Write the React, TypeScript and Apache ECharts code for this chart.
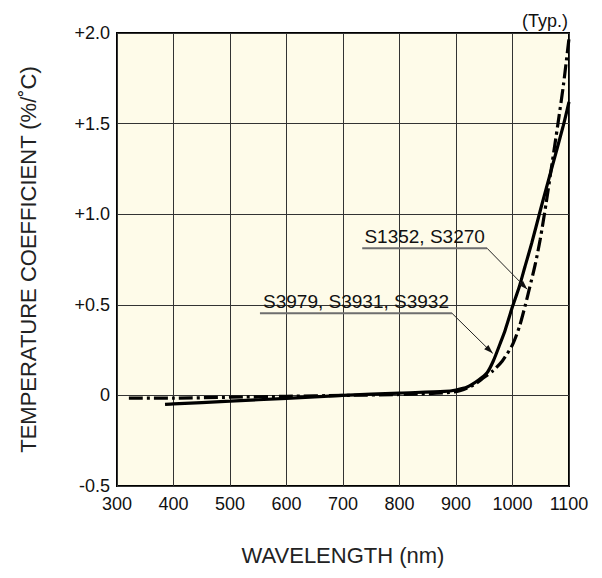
import React, { useEffect, useRef } from "react";
import * as echarts from "echarts";

// Axis ticks
const xTicks = [300, 400, 500, 600, 700, 800, 900, 1000, 1100];
const yTicks = [-0.5, 0, 0.5, 1.0, 1.5, 2.0];
const yTickLabels = ["-0.5", "0", "+0.5", "+1.0", "+1.5", "+2.0"];

// S3979, S3931, S3932 (solid)
const wlSolid = [385, 400, 500, 600, 700, 800, 880, 900, 920, 940, 955, 966, 978, 987, 1000, 1012, 1022, 1034, 1050, 1070, 1090, 1100];
const tcSolid = [-0.05, -0.047, -0.032, -0.016, 0, 0.013, 0.022, 0.03, 0.046, 0.085, 0.125, 0.19, 0.285, 0.36, 0.49, 0.6, 0.71, 0.84, 1.03, 1.26, 1.49, 1.62];

// S1352, S3270 (dash-dot)
const wlDash = [321, 400, 500, 600, 700, 800, 900, 930, 950, 965, 982, 1000, 1012, 1022, 1030, 1040, 1049, 1060, 1070, 1080, 1090, 1100];
const tcDash = [-0.015, -0.015, -0.01, -0.005, 0, 0.005, 0.02, 0.055, 0.1, 0.135, 0.19, 0.28, 0.377, 0.49, 0.59, 0.72, 0.86, 1.07, 1.28, 1.49, 1.71, 1.97];

// Annotations: label, underline start/end (data coords), arrow tip (data coords)
const annLabels = ["S1352, S3270", "S3979, S3931, S3932"];
const annLineStart = [[734, 0.812], [553, 0.453]];
const annLineEnd = [[955, 0.812], [893, 0.453]];
const annTip = [[1026, 0.586], [965, 0.232]];

const FONT = "'Liberation Sans', Arial, sans-serif";

export default function App() {
  const ref = useRef<HTMLDivElement>(null);
  useEffect(() => {
    document.body.style.margin = "0";
    const chart = echarts.init(ref.current!, null, { renderer: "svg" });
    chart.setOption({
      animation: false,
      backgroundColor: "#ffffff",
      grid: {
        left: 117,
        right: 33,
        top: 33,
        bottom: 92,
        show: true,
        backgroundColor: "#FEFBE9",
        borderColor: "#000",
        borderWidth: 2,
      },
      xAxis: {
        type: "value",
        min: 300,
        max: 1100,
        interval: 100,
        name: "WAVELENGTH (nm)",
        nameLocation: "middle",
        nameGap: 58,
        nameTextStyle: { fontFamily: FONT, fontSize: 22, color: "#222" },
        axisLine: { show: false },
        axisTick: { show: false },
        axisLabel: {
          margin: 9,
          fontFamily: FONT,
          fontSize: 18,
          color: "#111",
          formatter: (v: number) => (xTicks.includes(v) ? String(v) : ""),
        },
        splitLine: { show: true, lineStyle: { color: "#333", width: 1 } },
      },
      yAxis: {
        type: "value",
        min: -0.5,
        max: 2.0,
        interval: 0.5,
        name: "TEMPERATURE COEFFICIENT (%/˚C)",
        nameLocation: "middle",
        nameGap: 78,
        nameTextStyle: { fontFamily: FONT, fontSize: 22, color: "#222" },
        axisLine: { show: false },
        axisTick: { show: false },
        axisLabel: {
          margin: 7,
          fontFamily: FONT,
          fontSize: 18,
          color: "#111",
          formatter: (v: number) => {
            const i = yTicks.findIndex((t) => Math.abs(t - v) < 1e-6);
            return i >= 0 ? yTickLabels[i] : "";
          },
        },
        splitLine: { show: true, lineStyle: { color: "#333", width: 1 } },
      },
      series: [
        {
          name: "S3979, S3931, S3932",
          type: "line",
          data: wlSolid.map((w, i) => [w, tcSolid[i]]),
          showSymbol: false,
          smooth: 0.25,
          lineStyle: { color: "#000", width: 3.2, type: "solid" },
          z: 3,
        },
        {
          name: "S1352, S3270",
          type: "line",
          data: wlDash.map((w, i) => [w, tcDash[i]]),
          showSymbol: false,
          smooth: 0.25,
          lineStyle: { color: "#000", width: 3.2, type: [14, 4, 3, 4] },
          z: 4,
        },
      ],
    });

    const px = (p: number[]) => chart.convertToPixel({ gridIndex: 0 }, p) as number[];
    const graphics: any[] = [];
    annLabels.forEach((label, i) => {
      const a = px(annLineStart[i]);
      const b = px(annLineEnd[i]);
      const t = px(annTip[i]);
      graphics.push({
        type: "text",
        x: (a[0] + b[0]) / 2,
        y: a[1] - 2,
        style: {
          text: label,
          fontFamily: FONT,
          fontSize: 19,
          fill: "#111",
          align: "center",
          verticalAlign: "bottom",
        },
        z: 10,
      });
      graphics.push({
        type: "line",
        shape: { x1: a[0], y1: a[1], x2: b[0], y2: b[1] },
        style: { stroke: "#6e6e6e", lineWidth: 2 },
        z: 10,
      });
      graphics.push({
        type: "line",
        shape: { x1: b[0], y1: b[1], x2: t[0], y2: t[1] },
        style: { stroke: "#222", lineWidth: 1 },
        z: 10,
      });
      const dx = t[0] - b[0];
      const dy = t[1] - b[1];
      const len = Math.sqrt(dx * dx + dy * dy);
      const ux = dx / len;
      const uy = dy / len;
      const L = 9;
      const W = 3;
      const bx = t[0] - ux * L;
      const by = t[1] - uy * L;
      graphics.push({
        type: "polygon",
        shape: {
          points: [
            [t[0], t[1]],
            [bx - uy * W, by + ux * W],
            [bx + uy * W, by - ux * W],
          ],
        },
        style: { fill: "#111" },
        z: 10,
      });
    });
    const tr = px([1100, 2.0]);
    graphics.push({
      type: "text",
      x: tr[0] - 1,
      y: tr[1] - 3,
      style: {
        text: "(Typ.)",
        fontFamily: FONT,
        fontSize: 18,
        fill: "#111",
        align: "right",
        verticalAlign: "bottom",
      },
      z: 10,
    });
    chart.setOption({ graphic: graphics });
    return () => chart.dispose();
  }, []);
  return <div ref={ref} style={{ width: 602, height: 578 }} />;
}
